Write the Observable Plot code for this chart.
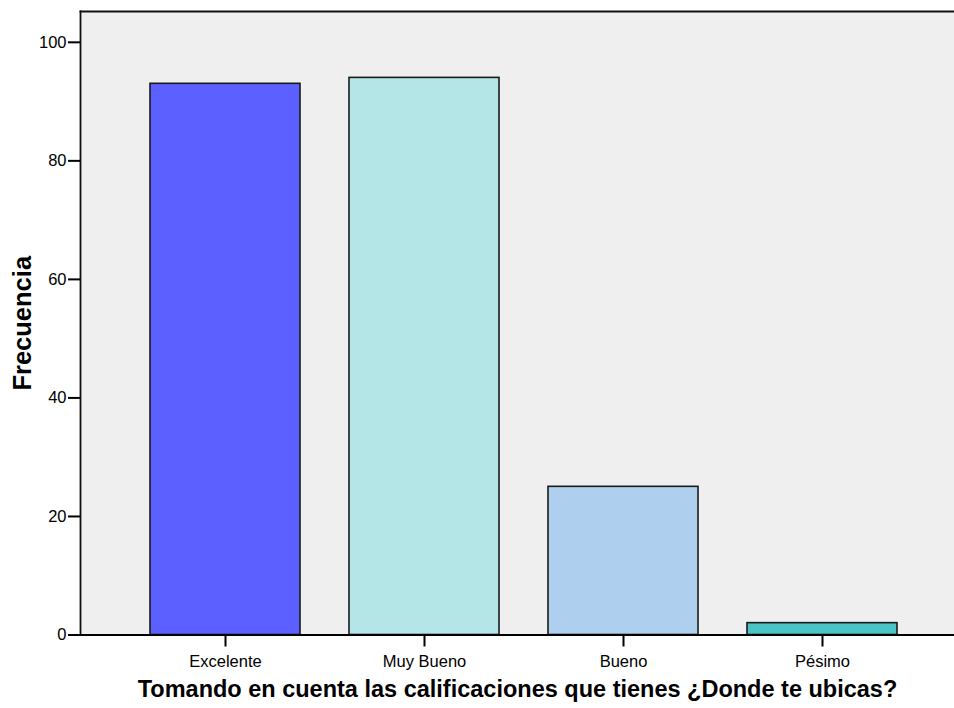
<!DOCTYPE html>
<html>
<head>
<meta charset="utf-8">
<script src="https://cdn.jsdelivr.net/npm/d3@7"></script>
<script src="https://cdn.jsdelivr.net/npm/@observablehq/plot@0.6"></script>
<style>
  html, body { margin: 0; padding: 0; background: #fff; }
  svg { display: block; }
</style>
</head>
<body>
<div id="chart"></div>
<script>
const categories = ["Excelente", "Muy Bueno", "Bueno", "Pésimo"];
const values = [93, 94, 25, 2];
const colors = ["#5c60ff", "#b4e6e8", "#aed0ee", "#4ac4c6"];
const yTicks = [0, 20, 40, 60, 80, 100];
const xTitle = "Tomando en cuenta las calificaciones que tienes ¿Donde te ubicas?";
const yTitle = "Frecuencia";

const data = categories.map((c, i) => ({cat: c, value: values[i]}));
const font = "'Liberation Sans', Arial, sans-serif";

const chart = Plot.plot({
  width: 954,
  height: 708,
  marginLeft: 80,
  marginRight: 0,
  marginTop: 11,
  marginBottom: 73.5,
  style: {fontFamily: font, background: "#fff", color: "#000"},
  x: {domain: categories, range: [149, 897], paddingInner: 0.248, paddingOuter: 0, label: null},
  y: {domain: [0, 105.2], label: null},
  color: {domain: categories, range: colors},
  marks: [
    Plot.frame({fill: "#efefef", stroke: null}),
    Plot.barY(data, {x: "cat", y: "value", fill: "cat", stroke: "#1a1a1a", strokeWidth: 1.6}),
    Plot.frame({anchor: "top", stroke: "#111", strokeWidth: 1.8}),
    Plot.frame({anchor: "left", stroke: "#111", strokeWidth: 1.8}),
    Plot.ruleY([0], {stroke: "#000", strokeWidth: 2.2}),
    Plot.axisY({ticks: yTicks, tickSize: 12, tickPadding: 2, fontSize: 16.5, strokeWidth: 2, label: null, tickFormat: d => String(d)}),
    Plot.axisX({tickSize: 12, tickPadding: 8, fontSize: 16.5, strokeWidth: 2, label: null}),
    Plot.text([xTitle], {frameAnchor: "bottom", textAnchor: "middle", dy: 62, fontSize: 23.5, fontWeight: "bold", fill: "#000"}),
    Plot.text([yTitle], {frameAnchor: "left", textAnchor: "middle", rotate: -90, dx: -58, fontSize: 25.5, fontWeight: "bold", fill: "#000"})
  ]
});
document.getElementById("chart").appendChild(chart);
</script>
</body>
</html>
